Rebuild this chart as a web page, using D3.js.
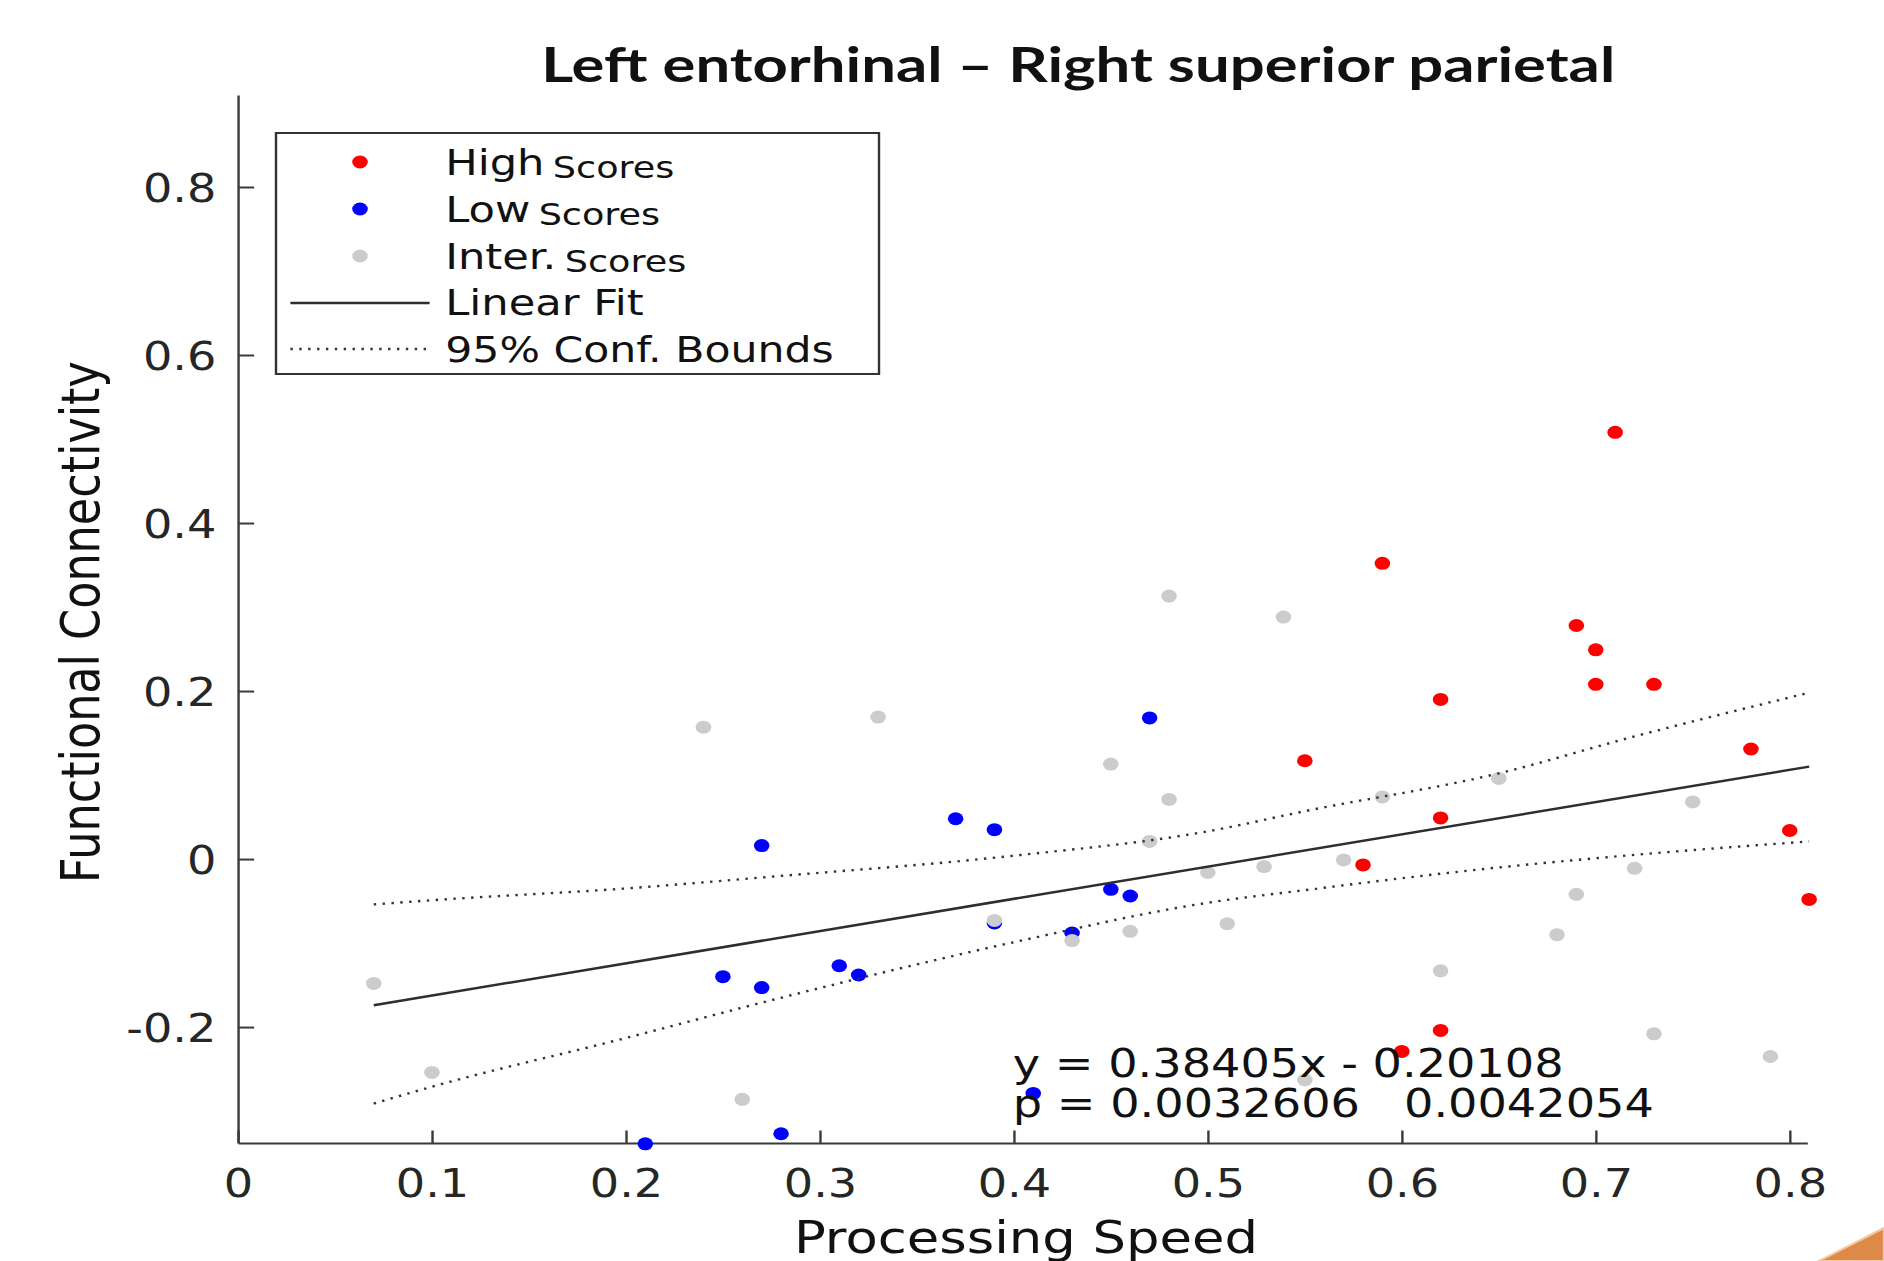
<!DOCTYPE html>
<html><head><meta charset="utf-8">
<script src="https://cdn.jsdelivr.net/npm/d3@7"></script>
<style>html,body{margin:0;padding:0;background:#fff;overflow:hidden}</style>
</head><body>
<script>
// ---- data ----
const highX = [0.710, 0.590, 0.690, 0.700, 0.700, 0.730, 0.620, 0.550, 0.780, 0.620, 0.800, 0.580, 0.810, 0.620, 0.600];
const highY = [0.508, 0.352, 0.278, 0.249, 0.208, 0.208, 0.190, 0.117, 0.131, 0.049, 0.034, -0.007, -0.048, -0.204, -0.229];

const lowX = [0.470, 0.270, 0.370, 0.390, 0.450, 0.460, 0.430, 0.250, 0.270, 0.310, 0.320, 0.410, 0.280, 0.210, 0.390];
const lowY = [0.168, 0.016, 0.048, 0.035, -0.036, -0.044, -0.088, -0.140, -0.153, -0.127, -0.138, -0.279, -0.327, -0.339, -0.076];

const interX = [0.480, 0.539, 0.240, 0.330, 0.450, 0.480, 0.590, 0.650, 0.750, 0.470, 0.500, 0.529, 0.570, 0.720, 0.690, 0.390, 0.430, 0.460, 0.510, 0.680, 0.620, 0.070, 0.100, 0.260, 0.550, 0.730, 0.790];
const interY = [0.313, 0.288, 0.157, 0.169, 0.113, 0.071, 0.074, 0.096, 0.068, 0.021, -0.016, -0.009, -0.001, -0.011, -0.042, -0.073, -0.097, -0.086, -0.077, -0.090, -0.133, -0.148, -0.254, -0.286, -0.263, -0.208, -0.235];

const fitX = [0.07, 0.81];
const fitY = [-0.174, 0.110];

const boundX = [0.07, 0.10, 0.20, 0.275, 0.40, 0.50, 0.55, 0.65, 0.72, 0.81];
const upperY = [-0.054, -0.049, -0.035, -0.021, 0.004, 0.033, 0.057, 0.102, 0.146, 0.198];
const lowerY = [-0.291, -0.271, -0.213, -0.168, -0.099, -0.052, -0.037, -0.010, 0.005, 0.021];

const xTicks = [0, 0.1, 0.2, 0.3, 0.4, 0.5, 0.6, 0.7, 0.8];
const xTickLabels = ["0", "0.1", "0.2", "0.3", "0.4", "0.5", "0.6", "0.7", "0.8"];
const yTicks = [-0.2, 0, 0.2, 0.4, 0.6, 0.8];
const yTickLabels = ["-0.2", "0", "0.2", "0.4", "0.6", "0.8"];

const titleText = "Left entorhinal \u2013 Right superior parietal";
const xLabel = "Processing Speed";
const yLabel = "Functional Connectivity";
const eqLine1 = "y = 0.38405x - 0.20108";
const eqLine2 = "p = 0.0032606   0.0042054";
const legendNames = ["High", "Low", "Inter."];
const legendSuffix = "Scores";

// ---- drawing ----
const W = 1570, H = 1261; // inner coordinates, stretched horizontally to 1884
const svg = d3.select("body").append("svg")
  .attr("width", 1884).attr("height", 1261)
  .attr("viewBox", `0 0 ${W} ${H}`)
  .attr("preserveAspectRatio", "none")
  .style("display", "block");

const x = d3.scaleLinear().domain([0, 0.809]).range([198.3, 1506]);
const y = d3.scaleLinear().domain([-0.338, 0.9095]).range([1143, 95]);

const TXT = "#262626", AX = "#3a3a3a";
const FONT = "'DejaVu Sans', sans-serif";

// axes
const gx = svg.append("g").attr("transform", `translate(0,${y(-0.338)})`)
  .call(d3.axisBottom(x).tickValues(xTicks).tickFormat((d, i) => xTickLabels[i])
    .tickSizeInner(-12.5).tickSizeOuter(0).tickPadding(27));
const gy = svg.append("g").attr("transform", `translate(${x(0)},0)`)
  .call(d3.axisLeft(y).tickValues(yTicks).tickFormat((d, i) => yTickLabels[i])
    .tickSizeInner(-13.5).tickSizeOuter(0).tickPadding(18));
[gx, gy].forEach(g => {
  g.select(".domain").attr("stroke", AX).attr("stroke-width", 2);
  g.selectAll(".tick line").attr("stroke", AX).attr("stroke-width", 2);
  g.selectAll(".tick text").attr("fill", TXT).style("font-family", FONT).style("font-size", "38.5px");
});
gy.selectAll(".tick text").attr("dy", "0.38em");

// points
const groups = [
  {xs: lowX, ys: lowY, c: "#0000ff"},
  {xs: interX, ys: interY, c: "#cccccc"},
  {xs: highX, ys: highY, c: "#ff0000"}
];
groups.forEach(g => {
  svg.append("g").selectAll("circle").data(g.xs.map((v, i) => [v, g.ys[i]])).join("circle")
    .attr("cx", d => x(d[0])).attr("cy", d => y(d[1])).attr("r", 6.5).attr("fill", g.c);
});

// fit and bounds
const line = d3.line().x(d => x(d[0])).y(d => y(d[1]));
svg.append("path").attr("d", line(fitX.map((v, i) => [v, fitY[i]])))
  .attr("fill", "none").attr("stroke", "#2e2e2e").attr("stroke-width", 2.5);
const curve = d3.line().x(d => x(d[0])).y(d => y(d[1])).curve(d3.curveMonotoneX);
[upperY, lowerY].forEach(arr => {
  svg.append("path").attr("d", curve(boundX.map((v, i) => [v, arr[i]])))
    .attr("fill", "none").attr("stroke", "#333").attr("stroke-width", 2.4)
    .attr("stroke-dasharray", "2 5.4");
});

// equation text
const eq = svg.append("g").style("font-family", FONT).style("font-size", "38.5px").attr("fill", "#111");
eq.append("text").attr("x", 844).attr("y", 1077).style("white-space", "pre").text(eqLine1);
eq.append("text").attr("x", 844).attr("y", 1117).style("white-space", "pre").text(eqLine2);

// legend
const lg = svg.append("g");
lg.append("rect").attr("x", 230).attr("y", 133).attr("width", 502.5).attr("height", 241)
  .attr("fill", "#fff").attr("stroke", "#333").attr("stroke-width", 2);
const rowY = [175, 222, 269, 315, 362];
const colors = ["#ff0000", "#0000ff", "#cccccc"];
legendNames.forEach((n, i) => {
  lg.append("circle").attr("cx", 300).attr("cy", rowY[i] - 13).attr("r", 6.5).attr("fill", colors[i]);
  const t = lg.append("text").attr("x", 371).attr("y", rowY[i]).attr("fill", "#111")
    .style("font-family", FONT).style("font-size", "36px").text(n);
  t.append("tspan").attr("dx", 7).attr("dy", 3).style("font-size", "30.5px").text(legendSuffix);
});
lg.append("line").attr("x1", 242).attr("x2", 358).attr("y1", 303).attr("y2", 303)
  .attr("stroke", "#2e2e2e").attr("stroke-width", 2.5);
lg.append("line").attr("x1", 242).attr("x2", 358).attr("y1", 349).attr("y2", 349)
  .attr("stroke", "#333").attr("stroke-width", 2.4).attr("stroke-dasharray", "2 5.4");
lg.append("text").attr("x", 371).attr("y", rowY[3]).attr("fill", "#111")
  .style("font-family", FONT).style("font-size", "36px").text("Linear Fit");
lg.append("text").attr("x", 371).attr("y", rowY[4]).attr("fill", "#111")
  .style("font-family", FONT).style("font-size", "35.5px").text("95% Conf. Bounds");

// title and labels
svg.append("text").attr("x", 898.5).attr("y", 82).attr("text-anchor", "middle")
  .attr("textLength", 895).attr("lengthAdjust", "spacingAndGlyphs")
  .style("font-family", "Lato, 'Open Sans', sans-serif").style("font-weight", "bold")
  .style("font-size", "47px").attr("fill", "#111").text(titleText);
svg.append("text").attr("x", 855).attr("y", 1253).attr("text-anchor", "middle")
  .style("font-family", FONT).style("font-size", "44px").attr("fill", "#111").text(xLabel);
svg.append("text").attr("transform", "translate(82.5,622) rotate(-90)").attr("text-anchor", "middle")
  .style("font-family", FONT).style("font-size", "44.5px").attr("fill", "#111").text(yLabel);

// slide decoration in the corner
svg.append("polygon").attr("points", "1515.8,1261 1570,1228 1570,1261")
  .attr("fill", "#dd8a48").attr("stroke", "#f2c79c").attr("stroke-width", 2);
</script>
</body></html>
